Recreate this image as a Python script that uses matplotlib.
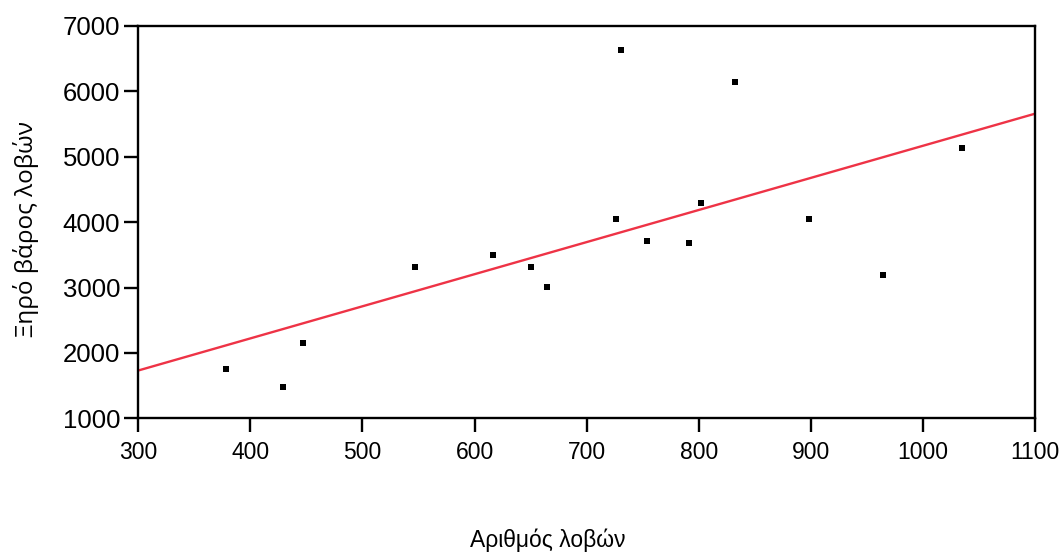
import numpy as np
import matplotlib
matplotlib.use("Agg")
import matplotlib.pyplot as plt

# Number of lobes and dry weight of lobes
lobes = [378, 429, 447, 547, 616, 650, 665, 726, 731, 754, 791, 802, 832, 898, 964, 1035]
dry_weight = [1754, 1479, 2152, 3319, 3502, 3319, 3013, 4053, 6629, 3716, 3686, 4298, 6139, 4053, 3196, 5130]

x_ticks = [300, 400, 500, 600, 700, 800, 900, 1000, 1100]
y_ticks = [1000, 2000, 3000, 4000, 5000, 6000, 7000]

plt.rcParams["font.family"] = ["Liberation Sans", "DejaVu Sans"]

fig = plt.figure(figsize=(10.63, 5.55), dpi=100)
ax = fig.add_axes([0.1301, 0.2463, 0.8436, 0.7069])

ax.plot(lobes, dry_weight, linestyle="none", marker="s", markersize=3.8,
        color="black", markeredgewidth=0)

# Least-squares regression line over the full x range
slope, intercept = np.polyfit(lobes, dry_weight, 1)
xs = np.array([x_ticks[0], x_ticks[-1]])
ax.plot(xs, intercept + slope * xs, color="#EE3346", linewidth=1.7)

ax.set_xlim(x_ticks[0], x_ticks[-1])
ax.set_ylim(y_ticks[0], y_ticks[-1])
ax.set_xticks(x_ticks)
ax.set_yticks(y_ticks)

for side in ["left", "bottom", "top", "right"]:
    ax.spines[side].set_linewidth(1.7)
ax.tick_params(axis="both", direction="out", length=10, width=1.7)
ax.tick_params(axis="x", labelsize=16.5, pad=6)
ax.tick_params(axis="y", labelsize=18.5, pad=3)

fig.text(0.515, 0.027, "Αριθμός λοβών", fontsize=16.5, ha="center", va="center")
fig.text(0.024, 0.587, "Ξηρό βάρος λοβών", fontsize=17.5, ha="center", va="center",
         rotation=90, family=["Open Sans", "DejaVu Sans"])

fig.savefig("out.png", dpi=100)
